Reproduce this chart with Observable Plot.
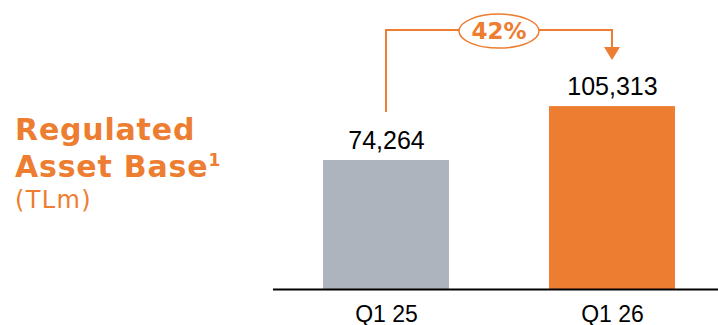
<!DOCTYPE html>
<html>
<head>
<meta charset="utf-8">
<script src="https://cdn.jsdelivr.net/npm/d3@7"></script>
<script src="https://cdn.jsdelivr.net/npm/@observablehq/plot@0.6"></script>
<style>
  html, body { margin: 0; padding: 0; background: #fff; }
  #chart { width: 718px; height: 325px; }
</style>
</head>
<body>
<div id="chart"></div>
<script>
// ---- data ----
const categories = ["Q1 25", "Q1 26"];
const values = [74264, 105313];
const valueLabels = ["74,264", "105,313"];
const barColors = ["#ADB4BE", "#ED7D31"];
const growthLabel = "42%";
const titleLines = ["Regulated", "Asset Base"];
const titleSup = "1";
const unitLabel = "(TLm)";

const ORANGE = "#ED7D31";
const rows = categories.map((c, i) => ({cat: c, value: values[i], label: valueLabels[i], color: barColors[i]}));

// growth arrow drawn from scales
function growthArrow(index, scales, vals, dims) {
  const x = scales.x, y = scales.y;
  const bw = x.bandwidth ? x.bandwidth() : 0;
  const x0 = x(categories[0]) + bw / 2;
  const x1 = x(categories[1]) + bw / 2;
  const yStart = y(values[0]) - 48;
  const yTop = y(Math.max(...values)) - 76;
  const yTip = y(values[1]) - 46;
  const g = d3.create("svg:g");
  g.append("path")
    .attr("d", `M${x0},${yStart}V${yTop}H${x1}V${yTip - 12}`)
    .attr("fill", "none").attr("stroke", ORANGE).attr("stroke-width", 2);
  g.append("path")
    .attr("d", `M${x1 - 8},${yTip - 13}L${x1 + 8},${yTip - 13}L${x1},${yTip}Z`)
    .attr("fill", ORANGE);
  const mx = (x0 + x1) / 2;
  g.append("ellipse")
    .attr("cx", mx).attr("cy", yTop + 1).attr("rx", 40).attr("ry", 17)
    .attr("fill", "#fff").attr("stroke", ORANGE).attr("stroke-width", 1.5);
  g.append("text")
    .attr("x", mx).attr("y", yTop + 9)
    .attr("text-anchor", "middle")
    .attr("font-family", "DejaVu Sans")
    .attr("font-weight", "bold")
    .attr("font-size", 23)
    .attr("fill", ORANGE)
    .text(growthLabel);
  return g.node();
}

const plot = Plot.plot({
  width: 718,
  height: 325,
  marginLeft: 273,
  marginRight: 0,
  marginTop: 0,
  marginBottom: 36,
  style: {fontFamily: "Liberation Sans", background: "#fff", overflow: "visible"},
  x: {domain: categories, range: [323, 675], paddingInner: 0.4425, paddingOuter: 0, axis: null},
  y: {domain: [0, 166400], axis: null},
  marks: [
    Plot.barY(rows, {x: "cat", y: "value", fill: "color"}),
    Plot.ruleY([0], {stroke: "#000", strokeWidth: 2}),
    Plot.text(rows, {x: "cat", y: "value", text: "label", lineAnchor: "bottom", dy: -12,
      fontSize: 25, fill: "#000", fontFamily: "Liberation Sans"}),
    Plot.text(rows, {x: "cat", frameAnchor: "bottom", text: "cat", lineAnchor: "bottom", dy: 32,
      fontSize: 23, fill: "#000", fontFamily: "Liberation Sans"}),
    growthArrow
  ]
});

// title block on the left
const svg = d3.select(plot);
const t = svg.append("g").attr("font-family", "DejaVu Sans").attr("fill", ORANGE).attr("text-anchor", "start");
t.append("text").attr("x", 15).attr("y", 140).attr("font-size", 30).attr("font-weight", "bold")
  .attr("letter-spacing", 0.8).text(titleLines[0]);
const t2 = t.append("text").attr("x", 15).attr("y", 177).attr("font-size", 30).attr("font-weight", "bold")
  .attr("letter-spacing", 0.8);
t2.append("tspan").text(titleLines[1]);
t2.append("tspan").attr("font-size", 17).attr("dy", -11).attr("dx", 0).text(titleSup);
t.append("text").attr("x", 15).attr("y", 208).attr("font-size", 24).attr("letter-spacing", 1.4).text(unitLabel);

document.getElementById("chart").appendChild(plot);
</script>
</body>
</html>
